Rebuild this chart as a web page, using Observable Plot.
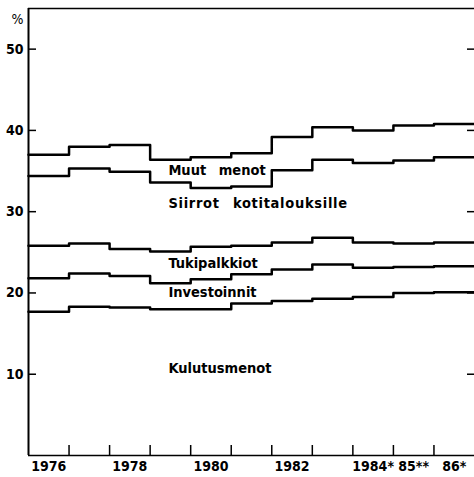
<!DOCTYPE html>
<html><head><meta charset="utf-8">
<script src="https://cdn.jsdelivr.net/npm/d3@7"></script>
<script src="https://cdn.jsdelivr.net/npm/@observablehq/plot@0.6"></script>
<style>
body{margin:0;background:#fff}
svg{display:block}
</style>
</head><body><div id="chart"></div>
<script>
// ---- data (percent shares) ----
const years = [1976,1977,1978,1979,1980,1981,1982,1983,1984,1985,1986];
const yearLabels = ["1976","","1978","","1980","","1982","","1984*","85**","86*"];
const seriesNames = ["Kulutusmenot","Investoinnit","Tukipalkkiot","Siirrot kotitalouksille","Muut menot"];
const kulutusmenot = [17.7,18.3,18.2,18.0,18.0,18.7,19.0,19.3,19.5,20.0,20.1];
const investoinnit = [4.1,4.1,3.9,3.2,3.7,3.6,3.9,4.2,3.6,3.2,3.2];
const tukipalkkiot = [4.0,3.7,3.3,3.9,4.0,3.5,3.3,3.3,3.1,2.9,2.9];
const siirrot      = [8.6,9.2,9.5,8.5,7.2,7.3,8.9,9.6,9.8,10.2,10.5];
const muutMenot    = [2.6,2.7,3.3,2.8,3.8,4.1,4.1,4.0,4.0,4.3,4.1];
const yTicks = [10,20,30,40,50];

// ---- build table ----
const seriesValues = [kulutusmenot, investoinnit, tukipalkkiot, siirrot, muutMenot];
const rows = [];
seriesNames.forEach((name, s) => {
  const v = seriesValues[s];
  years.forEach((yr, i) => rows.push({series: name, x: yr, value: v[i]}));
  rows.push({series: name, x: years[years.length - 1] + 1, value: v[v.length - 1]});
});

// label placement: middle of each band in 1980, nudged in pixels
const labelIdx = years.indexOf(1980);
const labelDy = [-14, -2, 0, -14, -2];
const labelSpacing = [0, 0, 0, 0.7, 0];
let acc = 0;
const labels = seriesNames.map((name, s) => {
  const lo = acc; acc += seriesValues[s][labelIdx];
  return {name, mid: (lo + acc) / 2, dy: labelDy[s], ls: labelSpacing[s]};
});

const W = 474, H = 477, mL = 28, mR = 0, mT = 8, mB = 22;
const plotW = W - mL - mR, plotH = H - mT - mB;
const FONT = "'DejaVu Sans Condensed','Liberation Sans Narrow','Liberation Sans',sans-serif";

const chart = Plot.plot({
  width: W, height: H,
  marginLeft: mL, marginRight: mR, marginTop: mT, marginBottom: mB,
  x: {domain: [years[0], years[years.length - 1] + 1]},
  y: {domain: [0, 55]},
  style: {fontFamily: FONT, background: "white", color: "black", overflow: "visible"},
  marks: [
    Plot.axisY(yTicks, {tickSize: 0, tickPadding: 5, fontSize: 14, fontWeight: "bold", label: null}),
    Plot.axisX(years.map(y => y + 0.5), {tickSize: 0, tickPadding: 6, fontSize: 14, fontWeight: "bold", label: null,
      tickFormat: d => yearLabels[years.indexOf(d - 0.5)]}),
    Plot.tickY(yTicks, {y: d => d, insetRight: plotW - 8, strokeWidth: 1.5}),
    Plot.tickY(yTicks, {y: d => d, insetLeft: plotW - 7, strokeWidth: 1.5}),
    Plot.tickX(years.slice(1), {x: d => d, insetTop: plotH - 10, strokeWidth: 1.5}),
    Plot.ruleX([years[0]], {strokeWidth: 2}),
    Plot.ruleY([0], {strokeWidth: 1.5}),
    Plot.ruleY([55], {strokeWidth: 1.5}),
    Plot.lineY(rows, Plot.stackY2({x: "x", y: "value", z: "series", curve: "step-after",
      stroke: "black", strokeWidth: 2.5})),
    ...labels.map(l => Plot.text([l], {x: () => 1979.45, y: "mid", text: "name", textAnchor: "start",
      dy: l.dy, fontSize: 14.5, fontWeight: "bold", className: "lbl" + (l.ls ? " wide" : "")})),
    Plot.text(["%"], {frameAnchor: "top-left", dx: -17, dy: 6, text: d => d, fontSize: 14})
  ]
});
document.getElementById("chart").append(chart);
d3.select(chart).selectAll('g[aria-label="text"] text').style("word-spacing", "8px");
d3.select(chart).selectAll('.wide text').style("letter-spacing", "0.7px");
</script>
</body></html>
